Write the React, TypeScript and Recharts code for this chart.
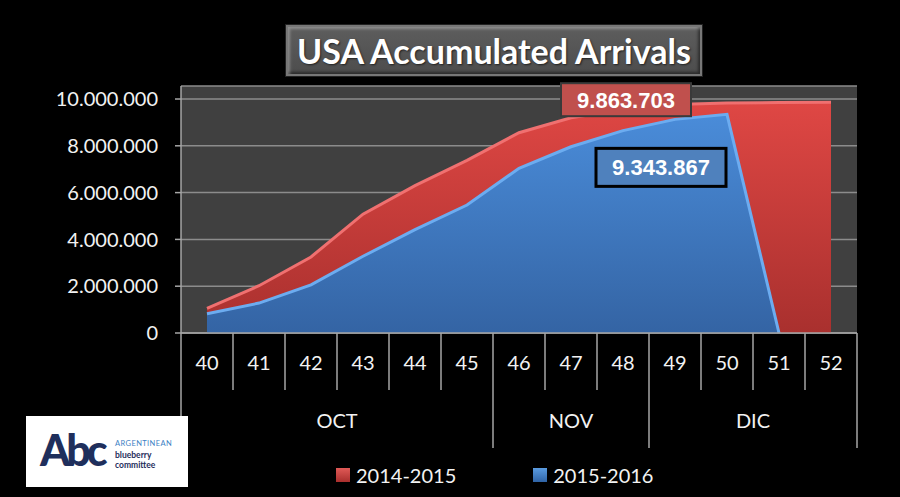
import React from 'react';
import { AreaChart, Area, XAxis, YAxis, CartesianGrid, LabelList } from 'recharts';

const weeks = ['40', '41', '42', '43', '44', '45', '46', '47', '48', '49', '50', '51', '52'];
const arrivals1415 = [1050000, 2020000, 3250000, 5080000, 6300000, 7380000, 8560000, 9200000, 9550000, 9770000, 9830000, 9850000, 9863703];
const arrivals1516 = [820000, 1280000, 2060000, 3280000, 4420000, 5470000, 7040000, 7960000, 8650000, 9130000, 9343867, 0, null];
const monthLabels = ['OCT', 'NOV', 'DIC'];
const monthSpans = [6, 3, 4];
const yTicks = [0, 2000000, 4000000, 6000000, 8000000, 10000000];
const seriesNames = ['2014-2015', '2015-2016'];

const data = weeks.map((w, i) => ({ week: w, s1415: arrivals1415[i], s1516: arrivals1516[i] }));

const W = 900;
const H = 497;
const LEFT = 181;
const RIGHT = 43;
const STEP = (W - LEFT - RIGHT) / weeks.length;
const FONT = 'Lato, "Open Sans", sans-serif';
const LINE = '#a6a6a6';

const monthStarts = monthSpans.map((_, m) => monthSpans.slice(0, m).reduce((a, b) => a + b, 0));
const monthEnds = monthStarts.map((s, m) => s + monthSpans[m] - 1);

function fmt(v: number) {
  return String(Math.round(v)).replace(/\B(?=(\d{3})+(?!\d))/g, '.');
}

function WeekTick(props: any) {
  const { x, y, payload } = props;
  const i = payload.index ?? props.index;
  const half = STEP / 2;
  const isEnd = monthEnds.includes(i);
  const m = monthStarts.indexOf(i);
  return (
    <g>
      {i === 0 && <line x1={x - half} x2={x - half} y1={y} y2={y + 115} stroke={LINE} strokeWidth={1.5} />}
      <line x1={x + half} x2={x + half} y1={y} y2={y + (isEnd ? 115 : 57)} stroke={LINE} strokeWidth={1.5} />
      <text x={x} y={y + 30} dy="0.35em" textAnchor="middle" fill="#f2f2f2" fontSize={20} fontFamily={FONT}>
        {payload.value}
      </text>
      {m >= 0 && (
        <text x={x + ((monthSpans[m] - 1) / 2) * STEP} y={y + 88} dy="0.35em" textAnchor="middle" fill="#f2f2f2" fontSize={20} fontFamily={FONT}>
          {monthLabels[m]}
        </text>
      )}
    </g>
  );
}

function peakLabel(series: (number | null)[], fill: string, border: string, bw: number, dx: number, dy: number, h: number) {
  const vals = series.map((v) => v ?? 0);
  const peak = vals.indexOf(Math.max(...vals));
  return (props: any) => {
    const { x, y, index } = props;
    if (index !== peak) return null;
    const bx = x + dx;
    const by = y + dy;
    return (
      <g>
        <rect x={bx} y={by} width={130} height={h} fill={fill} stroke={border} strokeWidth={bw} />
        <text x={bx + 65} y={by + h / 2} dy="0.36em" textAnchor="middle" fill="#fff" fontSize={22} fontWeight="bold" fontFamily='"Liberation Sans", Arial, sans-serif'>
          {fmt(vals[peak])}
        </text>
      </g>
    );
  };
}

function Logo() {
  return (
    <div style={{ position: 'absolute', left: 26, top: 416, width: 162, height: 71, background: '#fff', fontFamily: FONT }}>
      <div style={{ position: 'absolute', left: 14, top: 10, fontSize: 43, fontWeight: 900, color: '#1f2f5c', letterSpacing: -4, lineHeight: '48px' }}>
        Abc
      </div>
      <div style={{ position: 'absolute', left: 89, top: 23, lineHeight: '10.5px' }}>
        <div style={{ fontSize: 7.5, color: '#3b7fc4', letterSpacing: 0.4 }}>ARGENTINEAN</div>
        <div style={{ fontSize: 8.5, color: '#1f2f5c', fontWeight: 700 }}>blueberry</div>
        <div style={{ fontSize: 8.5, color: '#1f2f5c', fontWeight: 700 }}>committee</div>
      </div>
    </div>
  );
}

export default function App() {
  const legendColors = [
    ['#e05a57', '#a92f2d'],
    ['#5a9be0', '#2f63a6'],
  ];
  return (
    <div style={{ position: 'absolute', left: 0, top: 0, width: W, height: H, background: '#000', overflow: 'hidden' }}>
      <AreaChart width={W} height={H} data={data} margin={{ top: 86, right: RIGHT, bottom: 0, left: 0 }}>
        <defs>
          <linearGradient id="redFill" x1="0" y1="0" x2="0" y2="1">
            <stop offset="0%" stopColor="#df4744" />
            <stop offset="100%" stopColor="#a9302e" />
          </linearGradient>
          <linearGradient id="blueFill" x1="0" y1="0" x2="0" y2="1">
            <stop offset="0%" stopColor="#4a8cd9" />
            <stop offset="100%" stopColor="#3464a4" />
          </linearGradient>
        </defs>
        <CartesianGrid vertical={false} fill="#404040" stroke="#8c8c8c" strokeWidth={1.5} />
        <XAxis
          dataKey="week"
          height={H - 333}
          padding={{ left: STEP / 2, right: STEP / 2 }}
          tickLine={false}
          tickSize={0}
          tickMargin={0}
          interval={0}
          axisLine={{ stroke: LINE, strokeWidth: 1.5 }}
          tick={<WeekTick />}
        />
        <YAxis
          width={LEFT}
          domain={[0, 10556000]}
          ticks={yTicks}
          allowDataOverflow
          tickFormatter={fmt}
          tickSize={6}
          tickMargin={17}
          tickLine={{ stroke: LINE, strokeWidth: 1.5 }}
          axisLine={{ stroke: LINE, strokeWidth: 1.5 }}
          tick={{ fill: '#f2f2f2', fontSize: 20, fontFamily: FONT }}
        />
        <Area
          type="linear"
          dataKey="s1415"
          name={seriesNames[0]}
          stroke="#f07070"
          strokeWidth={3}
          fill="url(#redFill)"
          fillOpacity={1}
          isAnimationActive={false}
        >
          <LabelList dataKey="s1415" content={peakLabel(arrivals1415, '#c0504d', '#3a3a3a', 2, -270, -19, 33)} />
        </Area>
        <Area
          type="linear"
          dataKey="s1516"
          name={seriesNames[1]}
          stroke="#6cacf0"
          strokeWidth={3}
          fill="url(#blueFill)"
          fillOpacity={1}
          isAnimationActive={false}
        >
          <LabelList dataKey="s1516" content={peakLabel(arrivals1516, '#4f81bd', '#000', 3, -131, 34, 38)} />
        </Area>
      </AreaChart>

      <div
        style={{
          position: 'absolute',
          left: 285,
          top: 24,
          width: 418,
          height: 53,
          boxSizing: 'border-box',
          background: 'linear-gradient(#5e5e5e, #4c4c4c)',
          border: '1px solid #222',
          boxShadow: 'inset 0 0 0 2px #777, inset 4px 4px 3px rgba(255,255,255,0.3), inset -4px -4px 3px rgba(0,0,0,0.45)',
          color: '#fff',
          fontFamily: FONT,
          fontWeight: 700,
          fontSize: 34,
          lineHeight: '51px',
          textAlign: 'center',
          textShadow: '1px 1px 2px rgba(0,0,0,0.6)',
        }}
      >
        USA Accumulated Arrivals
      </div>

      <div style={{ position: 'absolute', left: 336, top: 462, display: 'flex', gap: 77, fontFamily: FONT, fontSize: 20, color: '#f2f2f2' }}>
        {seriesNames.map((n, i) => (
          <div key={n} style={{ display: 'flex', alignItems: 'center', gap: 6, lineHeight: '26px' }}>
            <span style={{ width: 14, height: 14, background: `linear-gradient(${legendColors[i][0]}, ${legendColors[i][1]})` }} />
            <span>{n}</span>
          </div>
        ))}
      </div>

      <Logo />
    </div>
  );
}
